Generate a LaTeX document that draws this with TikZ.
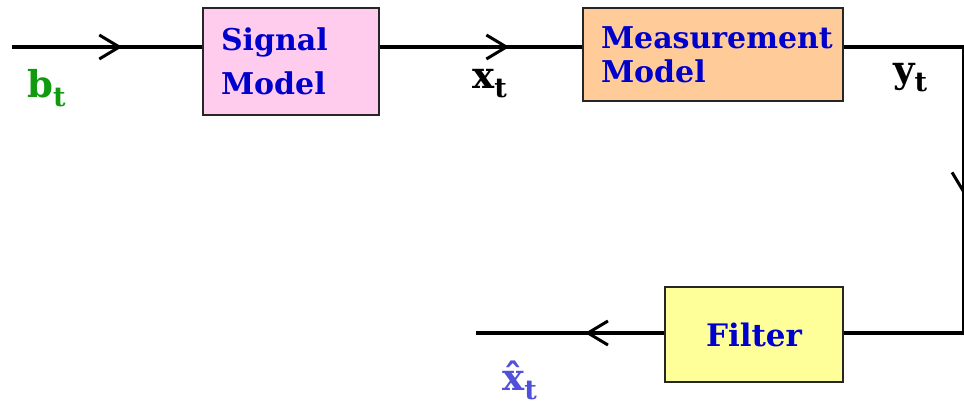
\documentclass[tikz,border=0pt]{standalone}
\usepackage{fontspec}
\setmainfont{DejaVu Serif}
\usetikzlibrary{arrows.meta,decorations.markings}

\definecolor{rose}{HTML}{FFCCEE}
\definecolor{peche}{HTML}{FFCC99}
\definecolor{jaune}{HTML}{FFFF99}
\definecolor{bleu}{HTML}{0000CC}
\definecolor{vert}{HTML}{109A10}
\definecolor{bleuclair}{HTML}{5050D8}

\newcommand{\indice}[2]{#1\raisebox{-9pt}{\fontsize{27}{27}\selectfont #2}}

\tikzset{
  bloc/.style={draw=black!85, line width=2pt, inner xsep=0pt, text=bleu, align=left},
  fil/.style={line width=4pt},
  fleche/.style={postaction={decorate}, decoration={markings,
      mark=at position #1 with {\arrow[line width=3pt]{Straight Barb[length=20pt,width=24pt]}}}},
  etiq/.style={anchor=base west, inner sep=0pt, font=\bfseries\fontsize{37}{37}\selectfont}
}

\begin{document}
\begin{tikzpicture}[x=1pt, y=-1pt]

  \useasboundingbox (0,0) rectangle (964,405);

  % Blocs
  \node[bloc, fill=rose, anchor=north west, minimum width=176pt, minimum height=107pt,
        text width=140pt, font=\bfseries\fontsize{30}{44}\selectfont]
        (sig) at (202,7) {Signal\\Model};
  \node[bloc, fill=peche, anchor=north west, minimum width=260pt, minimum height=93pt,
        text width=224pt, font=\bfseries\fontsize{30}{34}\selectfont]
        (meas) at (582,7) {Measurement\\Model};
  \node[bloc, fill=jaune, anchor=north west, minimum width=178pt, minimum height=95pt,
        text width=178pt, align=center, font=\bfseries\fontsize{31}{34}\selectfont]
        (filt) at (664,286) {Filter};

  % Extremites et coins
  \coordinate (entree) at (12,47);
  \coordinate (sortie) at (476,333);
  \coordinate (coinh) at (964,47);
  \coordinate (coinb) at (964,333);

  % Liaisons
  \draw[fil, fleche=0.58] (entree) -- (sig.west |- entree);
  \draw[fil, fleche=0.64] (sig.east |- entree) -- (meas.west |- entree);
  \draw[fil, fleche=0.51] (meas.east |- coinh) -- (coinh) -- (coinb) -- (filt.east |- coinb);
  \draw[fil, fleche=0.42] (filt.west |- sortie) -- (sortie);

  % Etiquettes
  \node[etiq, text=vert] (lb) at (27,97) {\indice{b}{t}};
  \node[etiq] (lx) at (472,88) {\indice{x}{t}};
  \node[etiq] (ly) at (893,82) {\indice{y}{t}};
  \node[etiq, text=bleuclair] (lxh) at (502,390) {\indice{\^{x}}{t}};

\end{tikzpicture}
\end{document}
